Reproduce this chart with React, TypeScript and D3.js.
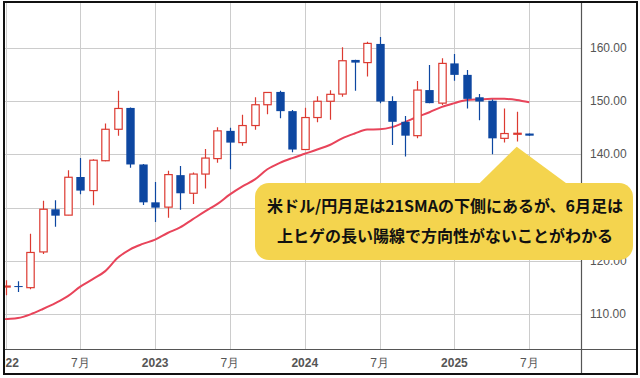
import React from 'react';
import * as d3 from 'd3';

// Monthly USD/JPY candles, Dec 2021 – Jul 2025 (index 0 = Dec 2021, off the left edge)
const months = [
  '2021-12',
  '2022-01', '2022-02', '2022-03', '2022-04', '2022-05', '2022-06', '2022-07', '2022-08', '2022-09', '2022-10', '2022-11', '2022-12',
  '2023-01', '2023-02', '2023-03', '2023-04', '2023-05', '2023-06', '2023-07', '2023-08', '2023-09', '2023-10', '2023-11', '2023-12',
  '2024-01', '2024-02', '2024-03', '2024-04', '2024-05', '2024-06', '2024-07', '2024-08', '2024-09', '2024-10', '2024-11', '2024-12',
  '2025-01', '2025-02', '2025-03', '2025-04', '2025-05', '2025-06', '2025-07',
];
const opens = [
  113.2,
  115.2, 115.3, 115.0, 121.7, 129.7, 128.6, 135.75, 133.2, 138.8, 144.7, 148.7, 138.1,
  131.0, 130.1, 136.1, 132.7, 136.3, 139.2, 144.4, 142.2, 145.4, 149.3, 151.7, 148.1,
  140.9, 146.9, 149.95, 151.3, 157.7, 157.2, 160.7, 150.0, 146.1, 143.5, 152.05, 149.6,
  157.05, 154.9, 150.7, 150.05, 143.0, 143.85, 143.9,
];
const highs = [
  115.2,
  116.4, 116.2, 125.1, 131.3, 131.4, 137.0, 139.3, 139.1, 145.8, 151.9, 148.8, 138.2,
  134.8, 136.9, 137.8, 136.6, 141.0, 145.1, 145.0, 147.4, 150.7, 151.6, 151.9, 148.3,
  148.75, 150.9, 152.0, 160.07, 157.75, 161.1, 162.0, 150.9, 147.2, 153.75, 156.75, 158.0,
  158.8, 155.8, 151.3, 150.3, 148.6, 148.0, 143.9,
];
const lows = [
  112.6,
  113.6, 114.2, 114.7, 121.3, 126.4, 128.6, 132.5, 130.45, 138.7, 143.5, 137.5, 130.5,
  127.3, 128.1, 129.6, 130.7, 133.6, 138.4, 137.2, 141.6, 144.6, 147.5, 146.75, 140.4,
  140.8, 146.0, 146.5, 150.8, 151.9, 154.6, 149.6, 141.75, 139.6, 143.0, 149.6, 149.25,
  153.8, 148.6, 146.4, 140.0, 142.2, 142.4, 143.5,
];
const closes = [
  115.1,
  115.3, 115.2, 121.6, 129.7, 128.5, 135.7, 133.2, 138.9, 144.7, 148.6, 138.1, 131.0,
  130.0, 136.2, 132.7, 136.3, 139.3, 144.4, 142.2, 145.4, 149.3, 151.6, 148.1, 140.9,
  146.9, 149.95, 151.25, 157.55, 157.2, 160.8, 149.9, 146.1, 143.5, 152.05, 149.6, 157.05,
  154.9, 150.4, 149.9, 143.0, 143.9, 143.95, 143.5,
];
const sma21 = [
  108.8,
  109.1, 109.3, 110.0, 111.0, 112.1, 113.4, 115.2, 116.6, 118.1, 120.6, 122.2, 123.2,
  124.0, 125.25, 126.3, 127.8, 129.3, 130.7, 132.5, 134.0, 135.3, 137.2, 138.4, 139.3,
  140.1, 140.9, 141.75, 143.0, 143.9, 144.65, 144.7, 145.1, 146.0, 147.0, 147.9, 148.9,
  149.6, 150.2, 150.3, 150.4, 150.4, 150.2, 149.75,
];

const xTickIndex = [1, 7, 13, 19, 25, 31, 37, 43];
const xTickLabels = ['2022', '7月', '2023', '7月', '2024', '7月', '2025', '7月'];
const yTicks = [110, 120, 130, 140, 150, 160];
const calloutLines = [
  '米ドル/円月足は21SMAの下側にあるが、6月足は',
  '上ヒゲの長い陽線で方向性がないことがわかる',
];

const UP = '#dc3a31';
const DOWN = '#0d47a1';
const SMA = '#e8445a';
const GRID = '#cccccc';

export default function App() {
  const W = 640;
  const H = 378;
  const plotLeft = 4;
  const plotRight = 581.5;
  const plotTop = 2;
  const plotBottom = 349.5;

  const x = d3.scaleLinear().domain([1, 43]).range([5.5, 5.5 + 12.47 * 42]);
  const y = d3.scaleLinear().domain([110, 160]).range([314.33, 47.67]);

  const line = d3
    .line<number>()
    .x((_, i) => x(i))
    .y((d) => y(d))
    .curve(d3.curveMonotoneX);

  const half = 4.2;

  return (
    <svg
      width={W}
      height={H}
      style={{ position: 'absolute', left: 0, top: 0, background: '#fff' }}
      fontFamily="'Liberation Sans', Arial, sans-serif"
    >
      <defs>
        <clipPath id="frameClip">
          <rect x={4} y={2} width={633} height={372} />
        </clipPath>
        <clipPath id="plotClip">
          <rect x={plotLeft} y={plotTop} width={plotRight - plotLeft} height={plotBottom - plotTop} />
        </clipPath>
      </defs>
      <rect x={0} y={0} width={W} height={H} fill="#fff" />
      <g clipPath="url(#frameClip)">
        {/* grid */}
        <g clipPath="url(#plotClip)">
          {yTicks.map((t) => (
            <line key={'gy' + t} x1={plotLeft} x2={plotRight} y1={Math.round(y(t)) + 0.5} y2={Math.round(y(t)) + 0.5} stroke={GRID} strokeWidth={1} />
          ))}
          {xTickIndex.map((t) => (
            <line key={'gx' + t} x1={Math.round(x(t)) + 0.5} x2={Math.round(x(t)) + 0.5} y1={plotTop} y2={plotBottom} stroke={GRID} strokeWidth={1} />
          ))}
          {/* SMA line */}
          <path d={line(sma21) || ''} fill="none" stroke={SMA} strokeWidth={2} />
          {/* candles */}
          {months.map((m, i) => {
            const o = opens[i];
            const c = closes[i];
            const up = c >= o;
            const col = up ? UP : DOWN;
            const cx = Math.round(x(i)) + 0.5;
            const top = y(Math.max(o, c));
            const bot = y(Math.min(o, c));
            const h = Math.max(bot - top, 1);
            return (
              <g key={m}>
                <line x1={cx} x2={cx} y1={y(highs[i])} y2={y(lows[i])} stroke={col} strokeWidth={1.2} />
                {up ? (
                  <rect x={cx - half + 0.5} y={top} width={2 * half - 1} height={h} fill="#fff" stroke={col} strokeWidth={1.2} />
                ) : (
                  <rect x={cx - half} y={top} width={2 * half} height={h} fill={col} />
                )}
              </g>
            );
          })}
        </g>
        {/* axes */}
        <line x1={0} x2={W} y1={plotBottom} y2={plotBottom} stroke="#555" strokeWidth={1.2} />
        <line x1={plotRight} x2={plotRight} y1={0} y2={H} stroke="#555" strokeWidth={1.2} />
        {yTicks.map((t) => (
          <text key={'ty' + t} x={590} y={y(t)} dominantBaseline="central" fontSize={12} fill="#555">
            {t.toFixed(2)}
          </text>
        ))}
        {xTickIndex.map((t, k) => (
          <text
            key={'tx' + t}
            x={x(t)}
            y={363}
            textAnchor="middle"
            dominantBaseline="central"
            fontSize={12}
            fontWeight={xTickLabels[k].includes('月') ? 400 : 700}
            fill="#555"
          >
            {xTickLabels[k]}
          </text>
        ))}
        {/* callout */}
        <g>
          <polygon points="476.7,186 516.7,146.7 570,186" fill="#f4d44e" />
          <rect x={255} y={183} width={378} height={77} rx={14} fill="#f4d44e" />
          {calloutLines.map((t, k) => (
            <text
              key={'c' + k}
              x={445}
              y={204.5 + k * 30.5}
              textAnchor="middle"
              dominantBaseline="central"
              fontFamily="'Noto Sans CJK JP', 'Noto Sans', sans-serif"
              fontWeight={700}
              fontSize={16}
              fill="#111"
            >
              {t}
            </text>
          ))}
        </g>
      </g>
      {/* frame */}
      <rect x={4} y={2} width={633} height={372} fill="none" stroke="#111" strokeWidth={2} />
    </svg>
  );
}
